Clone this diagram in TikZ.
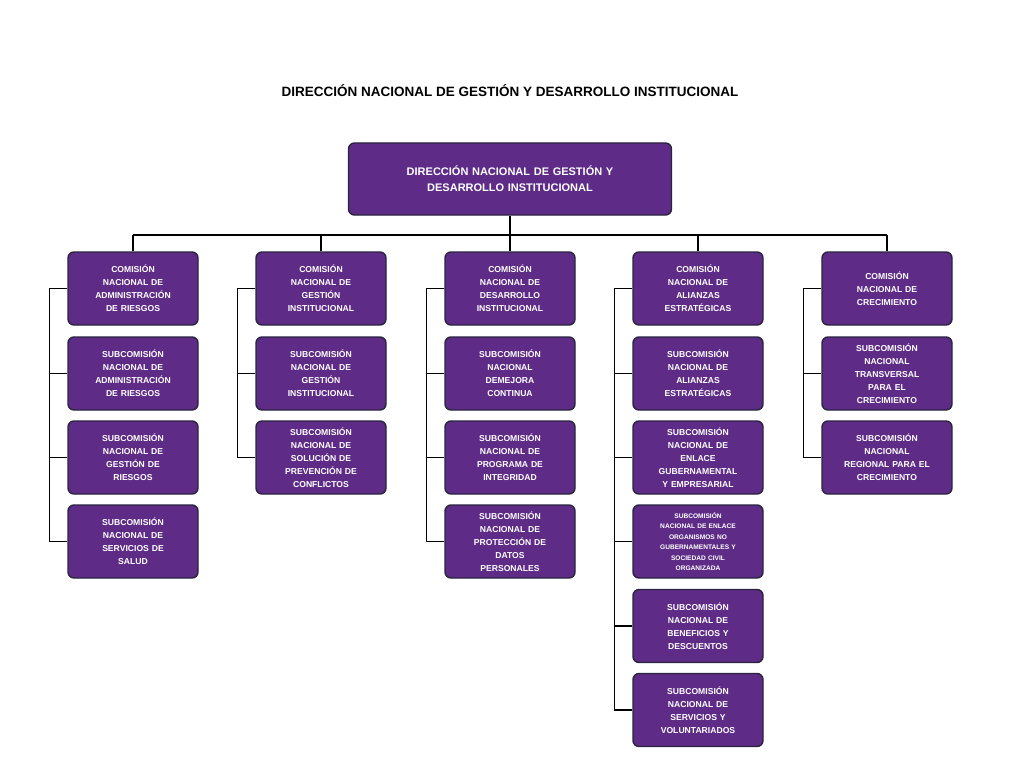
\documentclass[tikz,border=0pt]{standalone}
\usepackage{fontspec}
\setmainfont{Liberation Sans}
\definecolor{morado}{HTML}{5E2C87}
\definecolor{borde}{HTML}{2A2440}
\tikzset{
  caja/.style={draw=borde, line width=1.4pt, fill=morado, rounded corners=6pt,
    minimum width=130pt, minimum height=73pt, text width=124pt, align=center,
    text=white, font=\bfseries\fontsize{8.6}{13}\selectfont, inner sep=1pt},
  cajita/.style={caja, font=\bfseries\fontsize{6.6}{10.5}\selectfont},
  linea/.style={line width=1.2pt, black}
}
\begin{document}
\begin{tikzpicture}[x=1pt,y=-1pt]
    \useasboundingbox (0,0) rectangle (1020,765);
    \node (titulo) at (510,91) {\bfseries\fontsize{13.5}{16}\selectfont DIRECCIÓN NACIONAL DE GESTIÓN Y DESARROLLO INSTITUCIONAL};
    \node[caja, minimum width=323pt, text width=300pt, minimum height=72pt, font=\bfseries\fontsize{11}{16}\selectfont] (dir) at (510,179) {DIRECCIÓN NACIONAL DE GESTIÓN Y\\DESARROLLO INSTITUCIONAL};

    % comisiones
    \node[caja] (c1) at (133,288.5) {COMISIÓN\\NACIONAL DE\\ADMINISTRACIÓN\\DE RIESGOS};
    \node[caja] (c2) at (321,288.5) {COMISIÓN\\NACIONAL DE\\GESTIÓN\\INSTITUCIONAL};
    \node[caja] (c3) at (510,288.5) {COMISIÓN\\NACIONAL DE\\DESARROLLO\\INSTITUCIONAL};
    \node[caja] (c4) at (698,288.5) {COMISIÓN\\NACIONAL DE\\ALIANZAS\\ESTRATÉGICAS};
    \node[caja] (c5) at (887,288.5) {COMISIÓN\\NACIONAL DE\\CRECIMIENTO};

    % subcomisiones
    \node[caja] (s11) at (133,373.5) {SUBCOMISIÓN\\NACIONAL DE\\ADMINISTRACIÓN\\DE RIESGOS};
    \node[caja] (s12) at (133,457.5) {SUBCOMISIÓN\\NACIONAL DE\\GESTIÓN DE\\RIESGOS};
    \node[caja] (s13) at (133,541.5) {SUBCOMISIÓN\\NACIONAL DE\\SERVICIOS DE\\SALUD};

    \node[caja] (s21) at (321,373.5) {SUBCOMISIÓN\\NACIONAL DE\\GESTIÓN\\INSTITUCIONAL};
    \node[caja] (s22) at (321,457.5) {SUBCOMISIÓN\\NACIONAL DE\\SOLUCIÓN DE\\PREVENCIÓN DE\\CONFLICTOS};

    \node[caja] (s31) at (510,373.5) {SUBCOMISIÓN\\NACIONAL\\DEMEJORA\\CONTINUA};
    \node[caja] (s32) at (510,457.5) {SUBCOMISIÓN\\NACIONAL DE\\PROGRAMA DE\\INTEGRIDAD};
    \node[caja] (s33) at (510,541.5) {SUBCOMISIÓN\\NACIONAL DE\\PROTECCIÓN DE\\DATOS\\PERSONALES};

    \node[caja] (s41) at (698,373.5) {SUBCOMISIÓN\\NACIONAL DE\\ALIANZAS\\ESTRATÉGICAS};
    \node[caja] (s42) at (698,457.5) {SUBCOMISIÓN\\NACIONAL DE\\ENLACE\\GUBERNAMENTAL\\Y EMPRESARIAL};
    \node[cajita] (s43) at (698,541.5) {SUBCOMISIÓN\\NACIONAL DE ENLACE\\ORGANISMOS NO\\GUBERNAMENTALES Y\\SOCIEDAD CIVIL\\ORGANIZADA};
    \node[caja] (s44) at (698,626) {SUBCOMISIÓN\\NACIONAL DE\\BENEFICIOS Y\\DESCUENTOS};
    \node[caja] (s45) at (698,710) {SUBCOMISIÓN\\NACIONAL DE\\SERVICIOS Y\\VOLUNTARIADOS};

    \node[caja] (s51) at (887,373.5) {SUBCOMISIÓN\\NACIONAL\\TRANSVERSAL\\PARA EL\\CRECIMIENTO};
    \node[caja] (s52) at (887,457.5) {SUBCOMISIÓN\\NACIONAL\\REGIONAL PARA EL\\CRECIMIENTO};

    % bus superior
    \coordinate (bus) at (510,235);
    \draw[linea] (dir.south) -- (bus);
    \draw[linea] (c1.north |- bus) -- (c5.north |- bus);
    \foreach \c in {c1,c2,c3,c4,c5}
        \draw[linea] (\c.north |- bus) -- (\c.north);

    % rieles laterales
    \foreach \c/\last/\subs in {c1/s13/{s11,s12,s13}, c2/s22/{s21,s22}, c3/s33/{s31,s32,s33}, c4/s45/{s41,s42,s43,s44,s45}, c5/s52/{s51,s52}} {
        \coordinate (r\c) at ([xshift=-18pt]\c.west);
        \draw[linea] (\c.west) -- (r\c) -- (r\c |- \last.west);
        \foreach \s in \subs
            \draw[linea] (r\c |- \s.west) -- (\s.west);
    }
\end{tikzpicture}
\end{document}
